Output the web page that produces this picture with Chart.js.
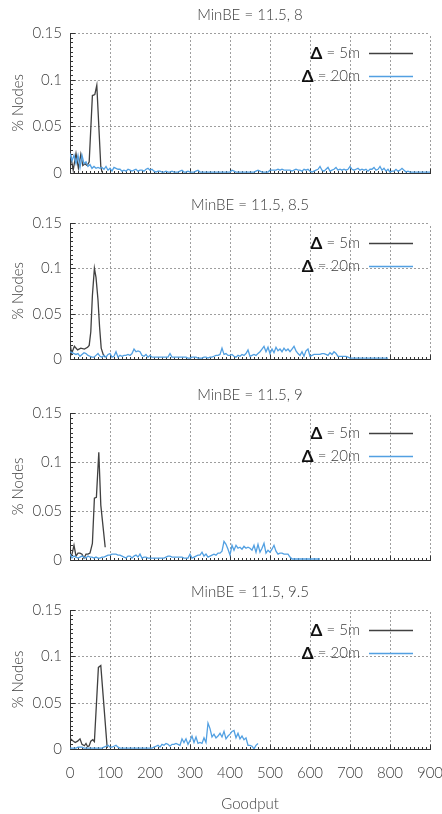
<!DOCTYPE html>
<html>
<head>
<meta charset="utf-8">
<script src="https://cdn.jsdelivr.net/npm/chart.js@4/dist/chart.umd.min.js"></script>
<style>
  html, body { margin: 0; padding: 0; background: #fff; }
  body { width: 442px; height: 814px; position: relative; overflow: hidden; }
  canvas { position: absolute; left: 0; }
</style>
</head>
<body>
<canvas id="p1" width="442" height="183" style="top:0px"></canvas>
<canvas id="p2" width="442" height="179" style="top:190px"></canvas>
<canvas id="p3" width="442" height="190" style="top:380px"></canvas>
<canvas id="p4" width="442" height="237" style="top:577px"></canvas>
<script>
// ---- data -------------------------------------------------------------
const panelTitles = ['MinBE = 11.5, 8', 'MinBE = 11.5, 8.5', 'MinBE = 11.5, 9', 'MinBE = 11.5, 9.5'];
const seriesLabels = ['Δ = 5m', 'Δ = 20m'];
const goodputTicks = [0, 100, 200, 300, 400, 500, 600, 700, 800, 900];
const nodeTicks = [0, 0.05, 0.1, 0.15];
const binWidth = 5; // goodput histogram bin used by the 20m series

// Δ = 5m histograms (goodput, share of nodes)
const fiveMinX_8 = [0, 8, 15, 21, 27, 32, 37, 43, 48, 56, 62, 67, 77, 80];
const fiveMinY_8 = [0.023, 0.003, 0.021, 0.005, 0.020, 0.008, 0.010, 0.008, 0.012, 0.083, 0.084, 0.094, 0.007, 0.001];

const fiveMinX_85 = [0, 4, 11, 19, 27, 36, 44, 48, 52, 56, 61, 65, 70, 74, 78, 83, 88];
const fiveMinY_85 = [0.018, 0.006, 0.014, 0.010, 0.012, 0.011, 0.013, 0.015, 0.030, 0.070, 0.100, 0.090, 0.065, 0.035, 0.012, 0.005, 0.002];

const fiveMinX_9 = [0, 5, 10, 15, 20, 25, 30, 35, 40, 45, 50, 56, 61, 66, 72, 77, 88];
const fiveMinY_9 = [0.004, 0.006, 0.015, 0.004, 0.007, 0.007, 0.006, 0.002, 0.006, 0.006, 0.007, 0.017, 0.063, 0.064, 0.110, 0.056, 0.013];

const fiveMinX_95 = [0, 7, 13, 19, 25, 30, 36, 40, 44, 48, 52, 57, 61, 71, 77, 93];
const fiveMinY_95 = [0.0115, 0.009, 0.007, 0.0085, 0.011, 0.005, 0.0035, 0.006, 0.0025, 0.0035, 0.0085, 0.010, 0.008, 0.088, 0.090, 0.001];

// Δ = 20m histograms, one value per bin starting at goodput 0
const twentyMin_8 = [
  0.021,0.013,0.019,0.010,0.019,0.006,0.019,0.010,0.012,0.007,0.009,0.005,0.007,0.005,0.006,0.005,0.006,0.004,0.007,0.003,
  0.005,0.002,0.006,0.005,0.004,0.004,0.002,0.003,0.002,0.004,0.003,0.002,0.003,0.004,0.002,0.003,0.003,0.002,0.004,0.005,
  0.003,0.004,0.002,0.001,0.002,0.002,0.001,0.001,0.002,0.001,0.001,0.002,0.001,0.001,0.001,0.002,0.003,0.001,0.001,0.002,
  0.001,0.001,0.001,0.002,0.003,0.001,0.001,0.001,0.001,0.001,0.001,0.001,0.001,0.001,0.001,0.001,0.001,0.001,0.001,0.001,
  0.001,0.003,0.002,0.001,0.001,0.001,0.001,0.001,0.001,0.001,0.001,0.001,0.001,0.002,0.003,0.002,0.001,0.001,0.001,0.001,
  0.003,0.003,0.003,0.003,0.004,0.003,0.004,0.003,0.003,0.003,0.003,0.002,0.003,0.004,0.003,0.003,0.002,0.004,0.003,0.004,
  0.002,0.001,0.002,0.003,0.004,0.007,0.003,0.002,0.004,0.006,0.002,0.003,0.004,0.006,0.003,0.004,0.003,0.004,0.003,0.004,
  0.007,0.004,0.003,0.004,0.005,0.003,0.004,0.003,0.004,0.002,0.004,0.004,0.006,0.003,0.004,0.007,0.003,0.005,0.002,0.004,
  0.001,0.002,0.002,0.004,0.002,0.003,0.005,0.003,0.001,0.002,0.001,0.001,0.001,0.001,0.001,0.001,0.001,0.001,0.001,0.001,0.001
];
const twentyMin_85 = [
  0.008,0.007,0.006,0.005,0.006,0.003,0.005,0.007,0.006,0.004,0.003,0.002,0.002,0.004,0.006,0.003,0.002,0.004,0.002,0.005,
  0.006,0.002,0.003,0.008,0.002,0.004,0.003,0.004,0.004,0.005,0.004,0.006,0.011,0.008,0.009,0.008,0.004,0.003,0.005,0.002,
  0.004,0.002,0.002,0.002,0.002,0.002,0.002,0.002,0.002,0.002,0.006,0.002,0.002,0.002,0.002,0.002,0.002,0.002,0.002,0.001,
  0.001,0.002,0.002,0.002,0.001,0.001,0.001,0.002,0.002,0.001,0.002,0.002,0.003,0.004,0.004,0.005,0.012,0.005,0.006,0.004,
  0.004,0.005,0.003,0.002,0.004,0.003,0.005,0.004,0.006,0.010,0.003,0.004,0.005,0.004,0.006,0.008,0.011,0.014,0.008,0.013,
  0.006,0.011,0.007,0.013,0.009,0.011,0.008,0.012,0.009,0.011,0.008,0.011,0.014,0.009,0.006,0.004,0.008,0.003,0.009,0.011,
  0.003,0.004,0.005,0.005,0.005,0.005,0.006,0.006,0.005,0.004,0.007,0.005,0.008,0.006,0.003,0.003,0.003,0.003,0.003,0.002,
  0.001,0.001,0.001,0.001,0.001,0.001,0.001,0.001,0.001,0.001,0.001,0.001,0.001,0.001,0.001,0.001,0.001,0.001,0.001,0.001
];
const twentyMin_9 = [
  0.006,0.002,0.004,0.003,0.002,0.003,0.004,0.003,0.002,0.004,0.003,0.003,0.002,0.003,0.002,0.002,0.003,0.003,0.004,0.005,
  0.005,0.006,0.006,0.006,0.005,0.005,0.004,0.003,0.002,0.004,0.004,0.002,0.004,0.005,0.003,0.006,0.002,0.003,0.003,0.002,
  0.002,0.002,0.002,0.002,0.002,0.002,0.002,0.002,0.003,0.004,0.004,0.003,0.003,0.003,0.003,0.003,0.003,0.002,0.002,0.002,
  0.006,0.002,0.003,0.004,0.005,0.005,0.008,0.004,0.006,0.003,0.004,0.005,0.006,0.005,0.007,0.007,0.009,0.019,0.016,0.011,
  0.005,0.015,0.010,0.015,0.012,0.013,0.011,0.014,0.012,0.013,0.012,0.010,0.015,0.008,0.016,0.008,0.012,0.017,0.007,0.010,
  0.008,0.011,0.015,0.009,0.006,0.007,0.007,0.006,0.006,0.006,0.003,0.001,0.001,0.001,0.001,0.001,0.001,0.001,0.001,0.001,
  0.001,0.001,0.001,0.001,0.001,0.001
];
const twentyMin_95 = [
  0.001,0.001,0.001,0.001,0.002,0.002,0.002,0.001,0.001,0.001,0.001,0.001,0.001,0.001,0.001,0.001,0.001,0.002,0.003,0.004,
  0.002,0.002,0.003,0.004,0.002,0.001,0.001,0.001,0.001,0.001,0.001,0.001,0.001,0.001,0.001,0.001,0.001,0.001,0.001,0.001,
  0.001,0.001,0.002,0.003,0.004,0.002,0.005,0.004,0.006,0.005,0.003,0.005,0.005,0.006,0.005,0.004,0.011,0.007,0.011,0.005,
  0.009,0.014,0.007,0.013,0.006,0.007,0.006,0.012,0.007,0.028,0.022,0.013,0.016,0.012,0.014,0.017,0.013,0.019,0.011,0.014,
  0.016,0.019,0.020,0.012,0.017,0.011,0.014,0.010,0.012,0.004,0.004,0.003,0.000,0.004,0.006
];

// ---- styling ----------------------------------------------------------
const FONT = "'Lato', 'Open Sans', sans-serif";
const FONT_SIZE = 15;
const TEXT = '#3c3c3c';
const DARK = '#404040';
const BLUE = '#52a0e2';

const pairs = (xs, ys) => ys.map((v, i) => ({ x: xs[i], y: v }));
const binned = ys => ys.map((v, i) => ({ x: i * binWidth, y: v }));

// gnuplot-like frame: dotted grid, solid left/bottom axes, inward ticks
const framePlugin = {
  id: 'frame',
  beforeDatasetsDraw(chart) {
    const { ctx, chartArea: a, scales: { x, y } } = chart;
    const L = Math.round(a.left) + 0.5, R = Math.round(a.right) + 0.5;
    const T = Math.round(a.top) + 0.5, B = Math.round(a.bottom) + 0.5;
    ctx.save();
    ctx.lineWidth = 1;
    ctx.strokeStyle = '#3c3c3c';
    ctx.setLineDash([1, 3]);
    ctx.beginPath();
    goodputTicks.forEach(v => {
      if (v === 0) return;
      const px = Math.round(x.getPixelForValue(v)) + 0.5;
      ctx.moveTo(px, B); ctx.lineTo(px, T);
    });
    nodeTicks.forEach(v => {
      if (v === 0) return;
      const py = Math.round(y.getPixelForValue(v)) + 0.5;
      ctx.moveTo(L, py); ctx.lineTo(R, py);
    });
    ctx.stroke();
    ctx.setLineDash([]);
    ctx.strokeStyle = '#333';
    ctx.beginPath();
    ctx.moveTo(L, T - 0.5); ctx.lineTo(L, B); ctx.lineTo(R + 0.5, B);
    // major ticks
    goodputTicks.forEach(v => {
      const px = Math.round(x.getPixelForValue(v)) + 0.5;
      ctx.moveTo(px, B); ctx.lineTo(px, B - 5);
    });
    nodeTicks.forEach(v => {
      const py = Math.round(y.getPixelForValue(v)) + 0.5;
      ctx.moveTo(L, py); ctx.lineTo(L + 5, py);
    });
    // minor ticks: ten per major interval
    for (let i = 0; i < goodputTicks.length - 1; i++) {
      const step = (goodputTicks[i + 1] - goodputTicks[i]) / 10;
      for (let k = 1; k < 10; k++) {
        const px = Math.round(x.getPixelForValue(goodputTicks[i] + k * step)) + 0.5;
        ctx.moveTo(px, B); ctx.lineTo(px, B - 2.5);
      }
    }
    for (let i = 0; i < nodeTicks.length - 1; i++) {
      const step = (nodeTicks[i + 1] - nodeTicks[i]) / 10;
      for (let k = 1; k < 10; k++) {
        const py = Math.round(y.getPixelForValue(nodeTicks[i] + k * step)) + 0.5;
        ctx.moveTo(L, py); ctx.lineTo(L + 2.5, py);
      }
    }
    ctx.stroke();
    ctx.restore();
  },
  afterDraw(chart) {
    // key in the upper right: bold delta, text right-aligned, sample line after it
    const { ctx, chartArea: a } = chart;
    const textRight = a.left + 290, lineStart = a.left + 299, lineEnd = a.left + 343;
    const rows = [20, 43];
    ctx.save();
    ctx.textBaseline = 'middle';
    chart.data.datasets.forEach((ds, i) => {
      const yy = Math.round(a.top + rows[i]) + 0.5;
      const head = ds.label.charAt(0), rest = ds.label.slice(1);
      ctx.font = `300 ${FONT_SIZE}px ${FONT}`;
      const wr = ctx.measureText(rest).width;
      ctx.fillStyle = TEXT;
      ctx.textAlign = 'left';
      ctx.fillText(rest, textRight - wr, yy);
      ctx.font = `bold 17px ${FONT}`;
      const wh = ctx.measureText(head).width;
      ctx.fillStyle = '#111';
      ctx.fillText(head, textRight - wr - wh, yy);
      ctx.strokeStyle = ds.borderColor;
      ctx.lineWidth = 1.3;
      ctx.beginPath();
      ctx.moveTo(lineStart, yy); ctx.lineTo(lineEnd, yy);
      ctx.stroke();
    });
    ctx.restore();
  }
};

const textFont = { family: FONT, size: FONT_SIZE, weight: '300' };

function makePanel(id, title, fiveMin, twentyMin, showX) {
  return new Chart(document.getElementById(id), {
    type: 'line',
    data: {
      datasets: [
        { label: seriesLabels[0], data: fiveMin, borderColor: DARK, borderWidth: 1.3, order: 1 },
        { label: seriesLabels[1], data: twentyMin, borderColor: BLUE, borderWidth: 1.3, order: 0 }
      ]
    },
    options: {
      responsive: false,
      animation: false,
      devicePixelRatio: 1,
      parsing: false,
      normalized: true,
      elements: { point: { radius: 0 }, line: { tension: 0, fill: false } },
      layout: { autoPadding: false, padding: { left: 0, right: 12, top: 0, bottom: 0 } },
      plugins: {
        legend: { display: false },
        tooltip: { enabled: false },
        title: {
          display: true, fullSize: false, text: title, color: TEXT, font: textFont,
          lineHeight: 1.2, padding: { top: 6, bottom: 9 }
        }
      },
      scales: {
        x: {
          type: 'linear', min: 0, max: 900,
          afterBuildTicks: s => { s.ticks = goodputTicks.map(v => ({ value: v })); },
          afterFit: s => { s.height = showX ? 65 : 10; s.paddingLeft = 0; s.paddingRight = 0; },
          grid: { display: false, drawTicks: false },
          border: { display: false },
          ticks: { display: showX, color: TEXT, padding: 15, maxRotation: 0, font: textFont },
          title: { display: showX, text: 'Goodput', color: TEXT, font: textFont,
                   padding: { top: 0, bottom: 1 } }
        },
        y: {
          min: 0, max: 0.15,
          afterBuildTicks: s => { s.ticks = nodeTicks.map(v => ({ value: v })); },
          afterFit: s => { s.width = 70; s.paddingTop = 0; s.paddingBottom = 0; },
          grid: { display: false, drawTicks: false },
          border: { display: false },
          ticks: { color: TEXT, padding: 8, callback: v => String(v), font: textFont },
          title: { display: true, text: '% Nodes', color: TEXT, font: textFont,
                   padding: { top: 9, bottom: 0 } }
        }
      }
    },
    plugins: [framePlugin]
  });
}

makePanel('p1', panelTitles[0], pairs(fiveMinX_8, fiveMinY_8), binned(twentyMin_8), false);
makePanel('p2', panelTitles[1], pairs(fiveMinX_85, fiveMinY_85), binned(twentyMin_85), false);
makePanel('p3', panelTitles[2], pairs(fiveMinX_9, fiveMinY_9), binned(twentyMin_9), false);
makePanel('p4', panelTitles[3], pairs(fiveMinX_95, fiveMinY_95), binned(twentyMin_95), true);
</script>
</body>
</html>
